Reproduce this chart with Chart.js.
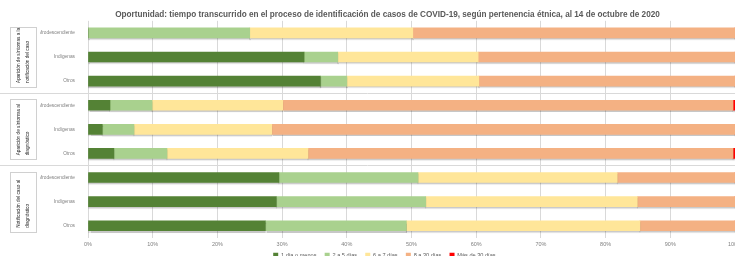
<!DOCTYPE html>
<html><head><meta charset="utf-8">
<script src="https://cdn.jsdelivr.net/npm/chart.js@4/dist/chart.umd.min.js"></script>
<style>html,body{margin:0;padding:0;background:#fff;overflow:hidden}</style>
</head><body>
<canvas id="c" width="735" height="256"></canvas>
<script>
const titleText = 'Oportunidad: tiempo transcurrido en el proceso de identificación de casos de COVID-19, según pertenencia étnica, al 14 de octubre de 2020';
const categories = ['Afrodescendiente','Indígenas','Otros','Afrodescendiente','Indígenas','Otros','Afrodescendiente','Indígenas','Otros'];
const groupLabels = [['Aparición de síntomas a la','notificación del caso'],['Aparición de síntomas al','diagnóstico'],['Notificación del caso al','diagnóstico']];
const seriesNames = ['1 día o menos','2 a 5 días','6 a 7 días','8 a 30 días','Más de 30 días'];
const unDiaOMenos  = [0, 33.4, 35.9, 3.4, 2.2, 4.0, 29.5, 29.1, 27.4];
const dosACinco    = [25, 5.2, 4.1, 6.5, 4.9, 8.2, 21.5, 23.1, 21.8];
const seisASiete   = [25.2, 21.7, 20.4, 20.2, 21.3, 21.8, 30.8, 32.7, 36.1];
const ochoATreinta = [49.8, 39.7, 39.6, 69.6, 71.6, 65.7, 18.2, 15.1, 14.7];
const masDeTreinta = [0, 0, 0, 0.3, 0, 0.3, 0, 0, 0];
const seriesColors = ['#548235','#A9D18E','#FFE699','#F4B183','#FF0000'];
const seriesData = [unDiaOMenos, dosACinco, seisASiete, ochoATreinta, masDeTreinta];

const FONT = "'Liberation Sans', Arial, sans-serif";

const decor = {
  id: 'decor',
  beforeDatasetsDraw(chart) {
    const ctx = chart.ctx, y = chart.scales.y;
    const band = y.getPixelForValue(1) - y.getPixelForValue(0);
    ctx.save();
    ctx.strokeStyle = '#d9d9d9'; ctx.lineWidth = 1;
    [3, 6].forEach(i => {
      const py = Math.round(y.getPixelForValue(i) - band / 2) + 0.5;
      ctx.beginPath(); ctx.moveTo(0, py); ctx.lineTo(chart.width, py); ctx.stroke();
    });
    ctx.restore();
    ctx.save();
    ctx.shadowColor = 'rgba(0,0,0,0.22)';
    ctx.shadowOffsetY = 1.5;
    ctx.shadowBlur = 1;
  },
  afterDatasetsDraw(chart) {
    chart.ctx.restore();
  },
  afterDraw(chart) {
    const ctx = chart.ctx, y = chart.scales.y;
    groupLabels.forEach((lines, g) => {
      const cy = (y.getPixelForValue(g * 3) + y.getPixelForValue(g * 3 + 2)) / 2;
      const h = 60, x0 = 10, w = 26;
      ctx.save();
      ctx.strokeStyle = '#d0d0d0'; ctx.lineWidth = 1;
      ctx.strokeRect(x0 + 0.5, Math.round(cy - h / 2) + 0.5, w, h);
      ctx.translate(x0 + w / 2, cy);
      ctx.rotate(-Math.PI / 2);
      ctx.fillStyle = '#262626';
      ctx.font = '4.7px ' + FONT;
      ctx.textAlign = 'left'; ctx.textBaseline = 'middle';
      ctx.fillText(lines[0], -h / 2 + 4, -4.5);
      ctx.fillText(lines[1], -h / 2 + 4, 4.5);
      ctx.restore();
    });
  }
};

new Chart(document.getElementById('c'), {
  type: 'bar',
  data: {
    labels: categories,
    datasets: seriesNames.map((n, i) => ({
      label: n, data: seriesData[i], backgroundColor: seriesColors[i],
      borderWidth: 0, barThickness: 10
    }))
  },
  options: {
    indexAxis: 'y', responsive: false, animation: false, devicePixelRatio: 1,
    layout: { padding: { left: 40, right: 0, top: 0, bottom: -12 } },
    plugins: {
      title: { display: true, text: titleText, color: '#595959',
        font: { family: FONT, size: 8.2, weight: 'bold' }, padding: { top: 10, bottom: 1 } },
      legend: { position: 'bottom',
        labels: { boxWidth: 5, boxHeight: 5, padding: 2, color: '#595959',
          font: { family: FONT, size: 5.6 },
          generateLabels(chart) {
            return Chart.defaults.plugins.legend.labels.generateLabels(chart).map(l => { l.text = l.text + '    '; return l; });
          } } },
      tooltip: { enabled: false }
    },
    scales: {
      x: { stacked: true, min: 0, max: 100,
        ticks: { stepSize: 10, padding: 3, color: '#808080', font: { family: FONT, size: 5.5 }, callback: v => v + '%' },
        grid: { color: '#d9d9d9', drawTicks: false }, border: { display: false },
        afterFit(s) { s.paddingRight = 0; } },
      y: { stacked: true,
        ticks: { padding: 5, color: '#808080', font: { family: FONT, size: 4.8 } },
        grid: { display: false }, border: { display: false },
        afterFit(s) { s.width = 48; } }
    }
  },
  plugins: [decor]
});
</script>
</body></html>
